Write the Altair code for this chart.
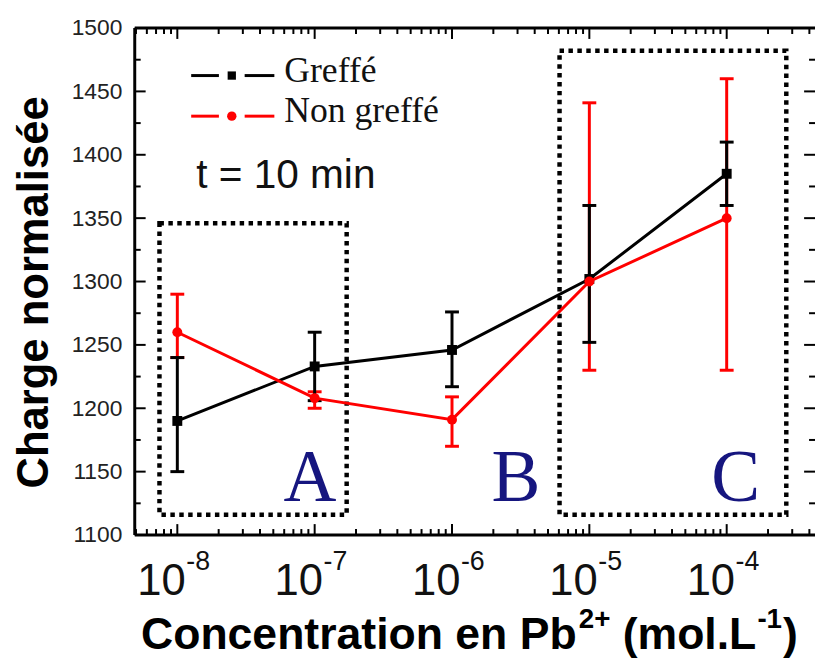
import altair as alt
import pandas as pd

# ---------------- data ----------------
conc = [1e-8, 1e-7, 1e-6, 1e-5, 1e-4]
greffe = [1190, 1233, 1246, 1302, 1385]
greffe_lo = [1150, 1206, 1217, 1252, 1360]
greffe_hi = [1240, 1260, 1276, 1360, 1410]
non_greffe = [1260, 1208, 1191, 1300, 1350]
non_lo = [1240, 1200, 1170, 1230, 1230]
non_hi = [1290, 1213, 1209, 1441, 1460]

x_tick_exp = ["-8", "-7", "-6", "-5", "-4"]
y_ticks = [1100, 1150, 1200, 1250, 1300, 1350, 1400, 1450, 1500]
y_minor = [1125, 1175, 1225, 1275, 1325, 1375, 1425, 1475]
x_minor = [5e-9, 6e-9, 7e-9, 8e-9, 9e-9,
           2e-8, 3e-8, 4e-8, 5e-8, 6e-8, 7e-8, 8e-8, 9e-8,
           2e-7, 3e-7, 4e-7, 5e-7, 6e-7, 7e-7, 8e-7, 9e-7,
           2e-6, 3e-6, 4e-6, 5e-6, 6e-6, 7e-6, 8e-6, 9e-6,
           2e-5, 3e-5, 4e-5, 5e-5, 6e-5, 7e-5, 8e-5, 9e-5,
           2e-4, 3e-4, 4e-4]

# dotted boxes (x in mol/L, y in charge units)
box_x = [10 ** -8.13, 10 ** -5.217]
box_x2 = [10 ** -6.767, 10 ** -3.566]
box_y = [1116, 1116]
box_y2 = [1346, 1482]

region_labels = ["A", "B", "C"]
region_x = [10 ** -7.034, 10 ** -5.534, 10 ** -3.934]
region_y = [1127, 1127, 1127]

# ---------------- layout ----------------
W, H = 687, 512
xscale = alt.Scale(type="log", domain=[10 ** -8.31, 10 ** -3.357], nice=False)
yscale = alt.Scale(domain=[1100, 1500], nice=False, zero=False)
yaxis = alt.Axis(values=y_ticks, ticks=False, domain=False, grid=False, format="d",
                 labelFontSize=23, labelFont="Liberation Sans", labelColor="#222222",
                 labelPadding=13, title=None)


def X(f):
    return alt.X(f, type="quantitative", scale=xscale, axis=None)


def Y(f):
    return alt.Y(f, type="quantitative", scale=yscale, axis=yaxis)


df_g = pd.DataFrame({"conc": conc, "v": greffe, "lo": greffe_lo, "hi": greffe_hi})
df_n = pd.DataFrame({"conc": conc, "v": non_greffe, "lo": non_lo, "hi": non_hi})
df_box = pd.DataFrame({"x": box_x, "x2": box_x2, "y": box_y, "y2": box_y2})
df_reg = pd.DataFrame({"t": region_labels, "x": region_x, "y": region_y})
df_xlab = pd.DataFrame({"conc": conc, "base": ["10"] * 5, "exp": x_tick_exp})
df_xmaj = pd.DataFrame({"v": conc})
df_xmin = pd.DataFrame({"v": x_minor})
df_ymaj = pd.DataFrame({"v": y_ticks})
df_ymin = pd.DataFrame({"v": y_minor})
one = pd.DataFrame({"a": [0]})

LW = 3
layers = []

# dotted boxes
layers.append(alt.Chart(df_box).mark_rect(filled=False, stroke="black", strokeWidth=4.5,
                                          strokeDash=[4.5, 4.5]).encode(
    x=X("x"), x2="x2", y=Y("y"), y2="y2"))
# region letters
layers.append(alt.Chart(df_reg).mark_text(font="Liberation Serif", fontSize=74, color="#16167f",
                                          align="center", baseline="alphabetic").encode(
    x=X("x"), y=Y("y"), text="t:N"))


def errbars(df, color):
    out = [alt.Chart(df).mark_rule(color=color, strokeWidth=LW).encode(x=X("conc"), y=Y("lo"), y2="hi")]
    for f in ["lo", "hi"]:
        out.append(alt.Chart(df).mark_rule(color=color, strokeWidth=LW, xOffset=-7, x2Offset=7).encode(
            x=X("conc"), x2="conc", y=Y(f)))
    return out


layers += errbars(df_n, "#ff0000")
layers += errbars(df_g, "black")
layers.append(alt.Chart(df_g).mark_line(color="black", strokeWidth=LW).encode(x=X("conc"), y=Y("v")))
layers.append(alt.Chart(df_g).mark_point(shape="square", filled=True, size=100, color="black",
                                         opacity=1).encode(x=X("conc"), y=Y("v")))
layers.append(alt.Chart(df_n).mark_line(color="#ff0000", strokeWidth=LW).encode(x=X("conc"), y=Y("v")))
layers.append(alt.Chart(df_n).mark_circle(size=100, color="#ff0000", opacity=1).encode(
    x=X("conc"), y=Y("v")))

# frame (right spine falls outside the picture)
layers.append(alt.Chart(one).mark_rule(color="black", strokeWidth=LW).encode(
    x=alt.value(0), y=alt.value(0), y2=alt.value(H)))
layers.append(alt.Chart(one).mark_rule(color="black", strokeWidth=LW).encode(
    x=alt.value(0), x2=alt.value(W), y=alt.value(0)))
layers.append(alt.Chart(one).mark_rule(color="black", strokeWidth=LW).encode(
    x=alt.value(0), x2=alt.value(W), y=alt.value(H)))

# inward ticks
for df, ln in [(df_xmaj, 11), (df_xmin, 6)]:
    layers.append(alt.Chart(df).mark_rule(color="black", strokeWidth=2).encode(
        x=X("v"), y=alt.value(H), y2=alt.value(H - ln)))
    layers.append(alt.Chart(df).mark_rule(color="black", strokeWidth=2).encode(
        x=X("v"), y=alt.value(0), y2=alt.value(ln)))
for df, ln in [(df_ymaj, 11), (df_ymin, 6)]:
    layers.append(alt.Chart(df).mark_rule(color="black", strokeWidth=2).encode(
        y=Y("v"), x=alt.value(0), x2=alt.value(ln)))
    layers.append(alt.Chart(df).mark_rule(color="black", strokeWidth=2).encode(
        y=Y("v"), x=alt.value(W), x2=alt.value(W - ln)))

# x tick labels 10^n
layers.append(alt.Chart(df_xlab).mark_text(font="Liberation Sans", fontSize=44, color="#111111",
                                           align="center", baseline="alphabetic", dx=-16).encode(
    x=X("conc"), y=alt.value(573), text="base:N"))
layers.append(alt.Chart(df_xlab).mark_text(font="Liberation Sans", fontSize=27, color="#111111",
                                           align="left", baseline="alphabetic", dx=9).encode(
    x=X("conc"), y=alt.value(547), text="exp:N"))

# legend
layers.append(alt.Chart(one).mark_rule(color="black", strokeWidth=LW).encode(
    x=alt.value(57), x2=alt.value(85), y=alt.value(48)))
layers.append(alt.Chart(one).mark_rule(color="black", strokeWidth=LW).encode(
    x=alt.value(111), x2=alt.value(141), y=alt.value(48)))
layers.append(alt.Chart(one).mark_point(shape="square", filled=True, size=70, color="black", opacity=1).encode(
    x=alt.value(98), y=alt.value(48)))
layers.append(alt.Chart(one).mark_rule(color="#ff0000", strokeWidth=LW).encode(
    x=alt.value(57), x2=alt.value(85), y=alt.value(89)))
layers.append(alt.Chart(one).mark_rule(color="#ff0000", strokeWidth=LW).encode(
    x=alt.value(111), x2=alt.value(141), y=alt.value(89)))
layers.append(alt.Chart(one).mark_circle(size=90, color="#ff0000", opacity=1).encode(
    x=alt.value(98), y=alt.value(89)))


def label(text, x, y, fs, font="Liberation Sans", weight="normal", align="left", angle=0, baseline="alphabetic",
          color="black"):
    return alt.Chart(pd.DataFrame({"t": [text]})).mark_text(
        font=font, fontSize=fs, fontWeight=weight, align=align, baseline=baseline, angle=angle,
        color=color).encode(x=alt.value(x), y=alt.value(y), text="t:N")


layers.append(label("Greffé", 151, 55, 36, font="Liberation Serif", color="#111111"))
layers.append(label("Non greffé", 151, 95, 36, font="Liberation Serif", color="#111111"))
layers.append(label("t = 10 min", 62, 162, 41, color="#111111"))

# y title
layers.append(label("Charge normalisée", -101, 267, 44, weight="bold", align="center",
                    angle=270, baseline="middle"))

# x title built from pieces (superscripts)
AW = {" ": 278, "(": 333, ")": 333, ".": 278, "+": 584, "-": 333, "1": 556, "2": 556,
      "C": 722, "L": 611, "P": 667, "a": 556, "b": 611, "c": 556, "e": 556, "i": 278,
      "l": 278, "m": 889, "n": 611, "o": 611, "r": 389, "t": 333}


def tw(s, fs):
    return sum(AW[c] for c in s) / 1000 * fs


FS, SFS = 45, 28
pieces = [("Concentration en Pb", FS, 627, 0), ("2+", SFS, 606, 2), ("(mol.L", FS, 627, tw(" ", FS)),
          ("-1", SFS, 606, 1), (")", FS, 627, 1)]
total = sum(tw(p[0], p[1]) + p[3] for p in pieces)
xp = 338 - total / 2
for text, fs, yb, gap in pieces:
    xp += gap
    layers.append(label(text, xp, yb, fs, weight="bold"))
    xp += tw(text, fs)

chart = alt.layer(*layers).properties(
    width=W, height=H,
    autosize=alt.AutoSizeParams(type="none"),
    padding={"left": 128, "top": 17, "right": 0, "bottom": 123},
).configure_view(stroke=None).configure(background="white")

chart.save("out.html", embed_options={"renderer": "svg", "actions": False})
